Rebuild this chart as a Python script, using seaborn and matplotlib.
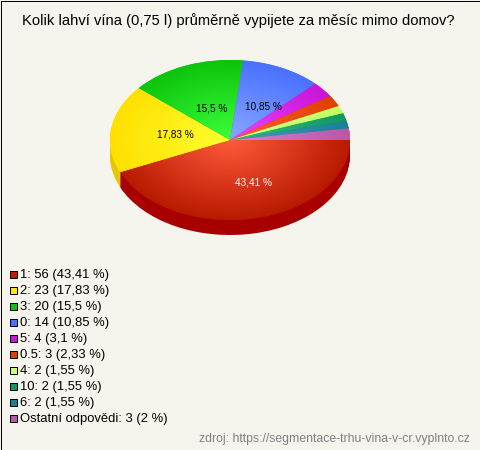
import numpy as np
import seaborn as sns
import matplotlib.pyplot as plt
from matplotlib.colors import LinearSegmentedColormap
from matplotlib.patches import Rectangle

title = "Kolik lahví vína (0,75 l) průměrně vypijete za měsíc mimo domov?"
source = "zdroj: https://segmentace-trhu-vina-v-cr.vyplnto.cz"
counts = [56, 23, 20, 14, 4, 3, 2, 2, 2, 3]
legend_labels = ["1: 56 (43,41 %)", "2: 23 (17,83 %)", "3: 20 (15,5 %)", "0: 14 (10,85 %)",
                 "5: 4 (3,1 %)", "0.5: 3 (2,33 %)", "4: 2 (1,55 %)", "10: 2 (1,55 %)",
                 "6: 2 (1,55 %)", "Ostatní odpovědi: 3 (2 %)"]
slice_labels = ["43,41 %", "17,83 %", "15,5 %", "10,85 %", "", "", "", "", "", ""]
label_colors = ["white", "black", "black", "black", "black", "black", "black", "black", "black", "black"]
inner_colors = ["#ff5a3c", "#ffff30", "#3cff3c", "#88a8ff", "#f040ff",
                "#ff6030", "#d8ff90", "#30c080", "#40a0b8", "#d880d0"]
outer_colors = ["#b81a00", "#ffe000", "#0cc40c", "#4a70ff", "#c815d8",
                "#e04000", "#c0ff60", "#109860", "#1a8098", "#b858a8"]
side_colors = ["#a80000", "#e6c800", "#0a9a0a", "#3a58c8", "#9c10a8",
               "#b03000", "#98c84c", "#0c784c", "#146478", "#904484"]
swatch_colors = ["#c01a00", "#ffe800", "#0fc010", "#4a70ff", "#c815d8",
                 "#e04000", "#c8ff70", "#109860", "#1a8098", "#b858a8"]

sns.set_theme(style="white")
plt.rcParams['font.family'] = ['Liberation Sans', 'DejaVu Sans']
bg = "#f5f5ee"

fig = plt.figure(figsize=(4.8, 4.5), dpi=100, facecolor=bg)

# pie centre at pixel (230,140), radii 120 and 80, 15 px deep
ax = fig.add_axes([0, 0, 1, 1])
depth = 15 / 80

for off in np.linspace(depth, 0.0125, 15):
    ax.pie(counts, colors=sns.color_palette(side_colors), startangle=0, counterclock=False,
           center=(0, -off), wedgeprops={"linewidth": 0})

wedges, _ = ax.pie(counts, colors=sns.color_palette(outer_colors), startangle=0, counterclock=False,
                   wedgeprops={"linewidth": 0})

# radial gradient on each slice
xx, yy = np.meshgrid(np.linspace(-1, 1, 300), np.linspace(-1, 1, 300))
rr = np.sqrt(xx ** 2 + yy ** 2)
for w, c1, c2 in zip(wedges, inner_colors, outer_colors):
    cmap = LinearSegmentedColormap.from_list("s", [c1, c2])
    im = ax.imshow(rr, extent=(-1, 1, -1, 1), origin="lower", cmap=cmap, vmin=0, vmax=1,
                   aspect="auto", zorder=2)
    im.set_clip_path(w)

# label distance from the centre along the slice, plus a small sideways shift
label_radius = [0.54, 0.46, 0.42, 0.46]
label_shift = [10 / 120, 0, 0, 9 / 120]
for w, txt, col, r, dx in zip(wedges, slice_labels, label_colors, label_radius, label_shift):
    mid = np.radians((w.theta1 + w.theta2) / 2)
    ax.text(r * np.cos(mid) + dx, r * np.sin(mid), txt, color=col, fontsize=7.2,
            ha="center", va="center", zorder=3)

ax.set_aspect("auto")
ax.set_xlim(-230 / 120, 250 / 120)
ax.set_ylim(-310 / 80, 140 / 80)
ax.axis("off")

# texts and legend in pixel coordinates
ov = fig.add_axes([0, 0, 1, 1], facecolor="none")
ov.set_xlim(0, 480)
ov.set_ylim(450, 0)
ov.axis("off")
ov.add_patch(Rectangle((0.5, 0.5), 479, 449, fill=False, edgecolor="black", linewidth=0.72))
ov.text(238, 21, title, fontsize=10.6, color="black", ha="center", va="center")
for i, (lab, col) in enumerate(zip(legend_labels, swatch_colors)):
    y = 274 + 16 * i
    ov.add_patch(Rectangle((9.5, y - 3.5), 7, 7, facecolor=col, edgecolor="black", linewidth=0.72))
    ov.text(20.5, y + 1, lab, fontsize=9.4, color="black", ha="left", va="center")
ov.text(470, 439, source, fontsize=8.8, color="#808080", ha="right", va="center")

fig.savefig("out.png", dpi=100, facecolor=bg)
